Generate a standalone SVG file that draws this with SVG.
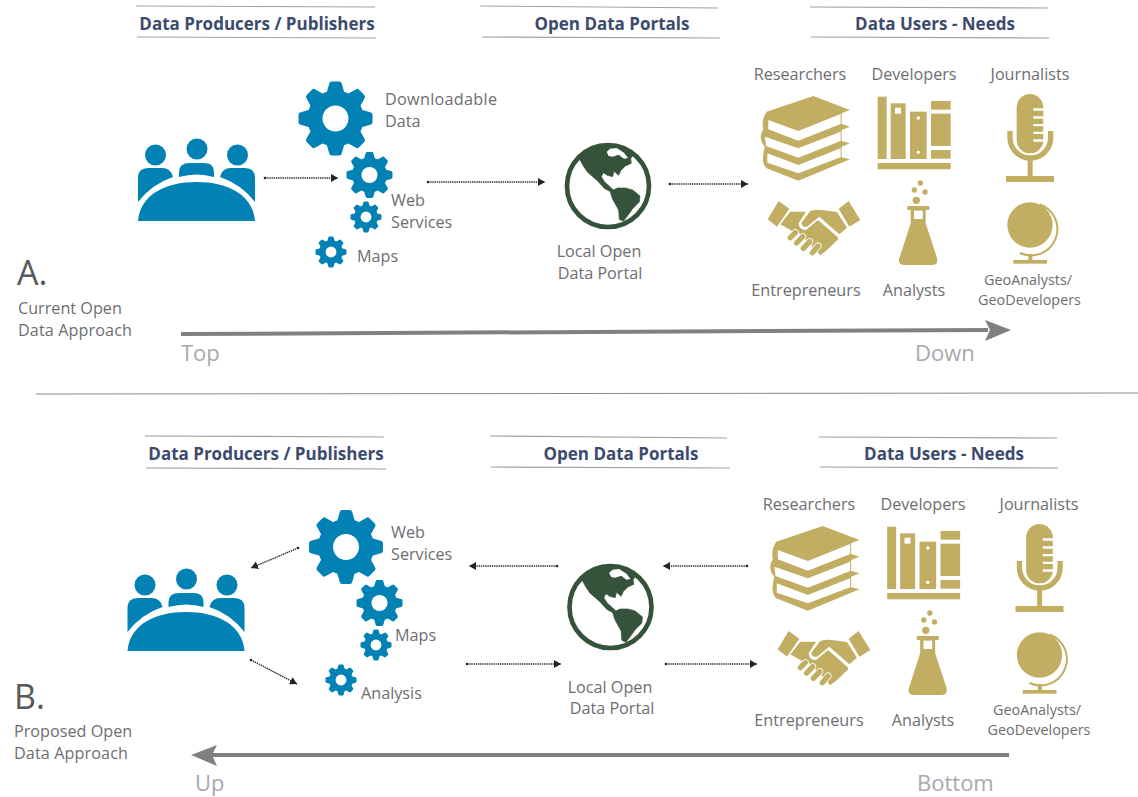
<svg xmlns="http://www.w3.org/2000/svg" xmlns:xlink="http://www.w3.org/1999/xlink" width="1138" height="797" viewBox="0 0 1138 797">
<style>
text{font-family:"Open Sans","Noto Sans","Liberation Sans",sans-serif;fill:#6d6e71;font-size:16.200px}
.h{font-weight:700;fill:#3c4a6e;font-size:17px;text-anchor:middle}
.m{text-anchor:middle}
.s{font-size:14.400px}
.big{font-size:34px;fill:#58595b}
.dir{font-size:22px;fill:#a7a9ac}
.rule{stroke:#a0a0a0;stroke-width:1.2;fill:none}
.conn{stroke:#222;stroke-width:1.5;stroke-dasharray:1.3 .9;fill:none;marker-end:url(#ah);marker-start:url(#dot)}
.flow{stroke:#808080;stroke-width:4;fill:none}
.blue{fill:#0282b4}.gold{fill:#c1ae62}.green{fill:#35523b}.w{fill:#fff}
</style>
<defs>
<marker id="ah" markerWidth="10" markerHeight="10" refX="7" refY="4" orient="auto" markerUnits="userSpaceOnUse"><path d="M0,0L7,4L0,8Z" fill="#222"/></marker>
<marker id="dot" markerWidth="4" markerHeight="4" refX="2" refY="2" markerUnits="userSpaceOnUse"><circle cx="2" cy="2" r="1.300" fill="#222"/></marker>
<g id="gear">
<circle r="76" class="blue"/>
<path id="t0" class="blue" d="M-25,-66L-17,-94Q-16,-100 -10,-100H10Q16,-100 17,-94L25,-66Z"/><use xlink:href="#t0" transform="rotate(45)"/><use xlink:href="#t0" transform="rotate(90)"/><use xlink:href="#t0" transform="rotate(135)"/><use xlink:href="#t0" transform="rotate(180)"/><use xlink:href="#t0" transform="rotate(225)"/><use xlink:href="#t0" transform="rotate(270)"/><use xlink:href="#t0" transform="rotate(315)"/>
<circle r="35" class="w"/>
</g>
<g id="people" class="blue">
<circle cx="155.500" cy="155" r="10.500"/><circle cx="197" cy="149" r="10.500"/><circle cx="237.500" cy="155" r="10.500"/>
<path d="M138,202V178Q138,168 148,168H162Q171,168 173,177Q152,184 138,202Z"/>
<path d="M179,177V172Q179,163 190,163H204Q214,163 214,172V177Q197,172 179,177Z"/>
<path d="M255,202V178Q255,168 245,168H231Q222,168 220,177Q241,184 255,202Z"/>
<path d="M138,221C140,195 165,182 196.500,182C228,182 253,195 255,221Z"/>
</g>
<g id="earth">
<circle cx="144" cy="144" r="123" fill="none" stroke="#35523b" stroke-width="14"/>
<path class="green" stroke="#35523b" stroke-width="2" stroke-linejoin="round" d="M58,62Q100,25 150,20Q190,22 222,48L212,62L214,76L196,84L182,98L176,112L162,100L158,116L142,112L130,104L124,116L134,132L150,146L160,156L172,150L196,150L218,156L240,174L238,192L218,212L204,232L190,250L178,244L176,216L158,184L150,160L134,152L112,128L82,102L70,84Z"/>
<path class="w" d="M140,42L150,32L170,30L192,44L204,60L192,62L176,50L158,56L146,54Z"/>
<path d="M154,124Q172,122 190,128" fill="none" stroke="#fff" stroke-width="4"/>
</g>
<g id="books">
<path class="gold" d="M790,108L900,150L875,160V192L900,200L875,210V243L900,250L875,260V292L900,298L745,362L650,325Q635,310 640,285Q640,270 645,262Q622,235 640,208Q633,180 650,155Z"/>
<path class="w" d="M655,180L745,213L872,162V192L745,242L655,208Z"/>
<path class="w" d="M645,230L745,265L872,215V243L745,293L648,258Z"/>
<path class="w" d="M652,280L745,315L872,265V292L745,340L652,308Z"/>
</g>
<g id="shake">
<path class="gold" d="M50,15L82,38L45,92L17,70ZM260,15L295,72L262,92L230,38Z"/>
<path class="gold" d="M145,45Q160,40 180,42L225,48L255,95L232,115L172,62L135,92Q120,95 118,80Z"/>
<path class="gold" d="M85,47H132L110,82Q112,104 132,102L168,72L226,122Q232,130 222,136L210,148L195,162L175,178L150,150L110,110L90,105L55,85Z"/>
<path d="M85,125L100,110M104,141L122,122M124,157L143,137M151,170L168,150" stroke="#fff" stroke-width="21" stroke-linecap="round" fill="none"/>
<path d="M85,125L100,110M104,141L122,122M124,157L143,137M151,170L168,150" stroke="#c1ae62" stroke-width="16" stroke-linecap="round" fill="none"/>
</g>
<g id="shelf" class="gold">
<rect x="53" y="110" width="27" height="187"/><rect x="92" y="130" width="45" height="167"/><rect class="w" x="105" y="143" width="18" height="18"/>
<rect x="150" y="155" width="50" height="142"/><circle class="w" cx="175" cy="174" r="5"/><circle class="w" cx="175" cy="277" r="5"/>
<rect x="213" y="123" width="59" height="26"/><rect x="213" y="161" width="59" height="97"/><rect x="213" y="270" width="59" height="26"/><rect x="53" y="309" width="219" height="19"/>
</g>
<g id="mic">
<rect class="gold" x="470" y="102" width="80" height="178" rx="40"/>
<path class="w" d="M520,145H552V152H520ZM520,169H552V176H520ZM520,192H552V199H520ZM520,215H552V222H520ZM520,238H552V245H520Z"/>
<path d="M450,213V233A61,61 0 0 0 572,233V213" fill="none" stroke="#c1ae62" stroke-width="16"/>
<rect class="gold" x="503" y="298" width="15" height="54"/><rect class="gold" x="438" y="348" width="144" height="18"/>
</g>
<g id="flask">
<circle class="gold" cx="181" cy="369" r="8"/><circle class="gold" cx="163" cy="390" r="8"/><circle class="gold" cx="195" cy="396" r="8"/><circle class="gold" cx="169" cy="421" r="11"/>
<path class="gold" d="M144,438H206Q212,444 206,450H197V490L230,590Q238,615 215,615H135Q112,615 118,595L152,490V450H144Q138,444 144,438Z"/>
<rect class="w" x="162" y="452" width="26" height="25"/>
</g>
<g id="gglobe">
<circle class="gold" cx="510" cy="495" r="68"/>
<path d="M540,433A79,79 0 1 1 480,579" fill="none" stroke="#c1ae62" stroke-width="6"/>
<rect class="gold" x="505" y="582" width="12" height="20"/><rect class="gold" x="460" y="600" width="101" height="11"/>
</g>
</defs>

<g id="rule-lines">
<path class="rule" d="M136,6L375,7M137,37L376,38M480,6L718,8M482,37L720,38M810,7L1048,8M811,37L1049,38"/>
<path class="rule" d="M145,436L384,437M146,468L386,469M490,436L727,438M491,467L730,468M819,437L1057,438M820,467L1058,468"/>
<path d="M36,394L1138,393" stroke="#8a8a8a" stroke-width="1" fill="none"/>
</g>

<g id="connectors">
<path class="conn" d="M265,178H338"/>
<path class="conn" d="M428,182H545"/>
<path class="conn" d="M670,184H748"/>
<path class="conn" d="M298,548L251,568"/>
<path class="conn" d="M251,660L297,684"/>
<path class="conn" d="M557,566H469"/>
<path class="conn" d="M467,664H561"/>
<path class="conn" d="M747,566H663"/>
<path class="conn" d="M666,664H757"/>
<path class="flow" d="M181,334L988,330"/><path fill="#808080" d="M1011,330L985,320L990,330L985,341Z"/>
<path class="flow" d="M1009,755H212"/><path fill="#808080" d="M191,755L217,745L212,755L217,766Z"/>
</g>

<g id="headers-a">
<text class="h" x="257" y="30">Data Producers / Publishers</text>
<text class="h" x="612" y="30">Open Data Portals</text>
<text class="h" x="935" y="30">Data Users - Needs</text>
</g>
<g id="headers-b">
<text class="h" x="266" y="460">Data Producers / Publishers</text>
<text class="h" x="621" y="460">Open Data Portals</text>
<text class="h" x="944" y="460">Data Users - Needs</text>
</g>

<g id="label-a"><text class="big" x="17" y="285">A.</text><text x="18" y="314">Current Open</text><text x="18" y="336" textLength="114">Data Approach</text><text class="dir" x="181" y="361">Top</text><text class="dir" x="915" y="361">Down</text></g>
<g id="label-b"><text class="big" x="14" y="709">B.</text><text x="14" y="737">Proposed Open</text><text x="14" y="759" textLength="114">Data Approach</text><text class="dir" x="195" y="791">Up</text><text class="dir" x="917" y="791">Bottom</text></g>

<g id="a-producers"><use xlink:href="#people"/></g>
<g id="a-gear-download"><use xlink:href="#gear" transform="translate(335.500,118.500) scale(.37)"/><text x="385" y="105" textLength="112">Downloadable</text><text x="385" y="127">Data</text></g>
<g id="a-gear-web"><use xlink:href="#gear" transform="translate(369.500,175) scale(.23)"/><use xlink:href="#gear" transform="translate(366,217) scale(.155)"/><text x="391" y="206">Web</text><text x="391" y="228">Services</text></g>
<g id="a-gear-maps"><use xlink:href="#gear" transform="translate(331,252) scale(.155)"/><text x="357" y="262">Maps</text></g>
<g id="a-portal"><use xlink:href="#earth" transform="translate(560,138) scale(.3333)"/><text class="m" x="599" y="257">Local Open</text><text class="m" x="600" y="279">Data Portal</text></g>
<g id="a-researchers"><text class="m" x="800" y="80">Researchers</text><use xlink:href="#books" transform="translate(550,60) scale(.3333)"/></g>
<g id="a-entrepreneurs"><use xlink:href="#shake" transform="translate(762,196) scale(.3333)"/><text class="m" x="806" y="296">Entrepreneurs</text></g>
<g id="a-developers"><text class="m" x="914" y="80">Developers</text><use xlink:href="#shelf" transform="translate(860,60) scale(.3333)"/></g>
<g id="a-analysts"><use xlink:href="#flask" transform="translate(860,60) scale(.3333)"/><text class="m" x="914" y="296">Analysts</text></g>
<g id="a-journalists"><text class="m" x="1030" y="80">Journalists</text><use xlink:href="#mic" transform="translate(860,60) scale(.3333)"/></g>
<g id="a-geo"><use xlink:href="#gglobe" transform="translate(860,60) scale(.3333)"/><text class="m s" x="1028" y="285">GeoAnalysts/</text><text class="m s" x="1029.500" y="305">GeoDevelopers</text></g>

<g id="b-producers"><use xlink:href="#people" transform="translate(-10.500,430)"/></g>
<g id="b-gear-web"><use xlink:href="#gear" transform="translate(346,547) scale(.37)"/><text x="391" y="538">Web</text><text x="391" y="560">Services</text></g>
<g id="b-gear-maps"><use xlink:href="#gear" transform="translate(379.500,603) scale(.23)"/><use xlink:href="#gear" transform="translate(376,645) scale(.155)"/><text x="395" y="641">Maps</text></g>
<g id="b-gear-analysis"><use xlink:href="#gear" transform="translate(341,680) scale(.155)"/><text x="361" y="699">Analysis</text></g>
<g id="b-portal"><use xlink:href="#earth" transform="translate(562.500,559) scale(.3333)"/><text class="m" x="610" y="693">Local Open</text><text class="m" x="612" y="714">Data Portal</text></g>
<g id="b-researchers"><text class="m" x="809" y="510">Researchers</text><use xlink:href="#books" transform="translate(559.500,490) scale(.3333)"/></g>
<g id="b-entrepreneurs"><use xlink:href="#shake" transform="translate(772,626) scale(.3333)"/><text class="m" x="809" y="726">Entrepreneurs</text></g>
<g id="b-developers"><text class="m" x="923" y="510">Developers</text><use xlink:href="#shelf" transform="translate(869.500,490) scale(.3333)"/></g>
<g id="b-analysts"><use xlink:href="#flask" transform="translate(869.500,490) scale(.3333)"/><text class="m" x="923" y="726">Analysts</text></g>
<g id="b-journalists"><text class="m" x="1039" y="510">Journalists</text><use xlink:href="#mic" transform="translate(869.500,490) scale(.3333)"/></g>
<g id="b-geo"><use xlink:href="#gglobe" transform="translate(869.500,490) scale(.3333)"/><text class="m s" x="1037" y="715">GeoAnalysts/</text><text class="m s" x="1039" y="735">GeoDevelopers</text></g>
</svg>
